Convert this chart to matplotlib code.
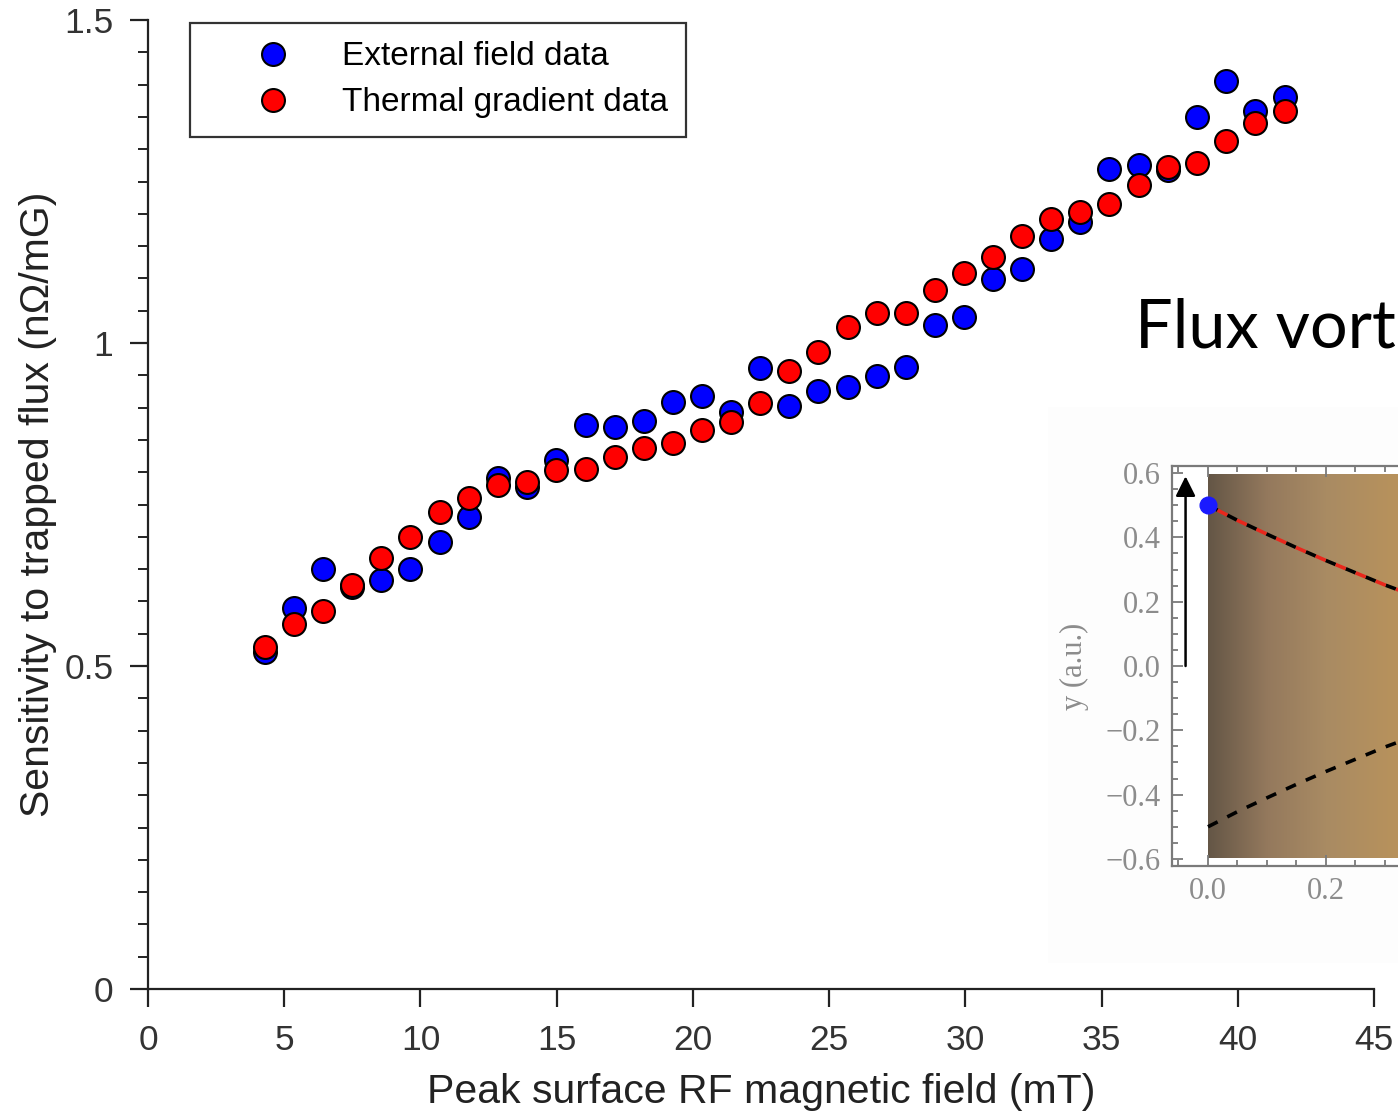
import numpy as np
import matplotlib
matplotlib.use("Agg")
import matplotlib.pyplot as plt
from matplotlib.colors import LinearSegmentedColormap
from matplotlib.patches import Rectangle
from matplotlib.ticker import MultipleLocator, FuncFormatter

# peak surface RF field (mT)
field = [4.29, 5.36, 6.42, 7.49, 8.55, 9.62, 10.72, 11.78, 12.85, 13.91,
         14.98, 16.08, 17.14, 18.21, 19.27, 20.33, 21.40, 22.46, 23.53, 24.59,
         25.69, 26.76, 27.82, 28.89, 29.95, 31.02, 32.08, 33.14, 34.21, 35.27,
         36.37, 37.44, 38.50, 39.57, 40.63, 41.73]
# sensitivity (nOhm/mG)
external = [0.522, 0.590, 0.650, 0.623, 0.633, 0.650, 0.692, 0.731, 0.791, 0.777,
            0.819, 0.873, 0.870, 0.879, 0.909, 0.918, 0.893, 0.961, 0.902, 0.926,
            0.932, 0.949, 0.963, 1.028, 1.040, 1.099, 1.115, 1.161, 1.187, 1.269,
            1.276, 1.268, 1.350, 1.406, 1.359, 1.381]
thermal = [0.529, 0.565, 0.585, 0.625, 0.667, 0.700, 0.738, 0.760, 0.780, 0.785,
           0.803, 0.805, 0.824, 0.837, 0.845, 0.865, 0.878, 0.907, 0.957, 0.986,
           1.025, 1.046, 1.046, 1.082, 1.108, 1.133, 1.166, 1.192, 1.203, 1.215,
           1.245, 1.272, 1.279, 1.313, 1.341, 1.359]

# inset: vortex line profile (a.u.)
inset_x = [0.0, 0.05, 0.1, 0.15, 0.2, 0.25, 0.3, 0.35, 0.4, 0.45, 0.5]
inset_upper = [0.50, 0.453, 0.41, 0.368, 0.328, 0.29, 0.252, 0.218, 0.185, 0.153, 0.123]
inset_lower = [-0.50, -0.453, -0.41, -0.368, -0.328, -0.29, -0.252, -0.218, -0.185, -0.153, -0.123]
inset_xticks = [0.0, 0.2, 0.4]
inset_xlabels = ['0.0', '0.2', '']

W, H = 1398, 1117
fig = plt.figure(figsize=(W / 100, H / 100), dpi=100)
plt.rcParams['font.family'] = ['Liberation Sans', 'DejaVu Sans']

ax = fig.add_axes([148 / W, 1 - 989 / H, (1374 - 148) / W, (989 - 20) / H])
ax.plot(field, external, 'o', ms=16.5, mfc='#0000ff', mec='black', mew=1.5,
        label='External field data', clip_on=False)
ax.plot(field, thermal, 'o', ms=16.5, mfc='#ff0000', mec='black', mew=1.5,
        label='Thermal gradient data', clip_on=False)
ax.set_xlim(0, 45)
ax.set_ylim(0, 1.5)
ax.xaxis.set_major_locator(MultipleLocator(5))
ax.yaxis.set_minor_locator(MultipleLocator(0.05))
ax.set_yticks([0, 0.5, 1, 1.5])
ax.set_yticklabels(['0', '0.5', '1', '1.5'])
for s in ['top', 'right']:
    ax.spines[s].set_visible(False)
for s in ['left', 'bottom']:
    ax.spines[s].set_linewidth(1.6)
    ax.spines[s].set_color('#222222')
ax.tick_params(which='major', length=13, width=1.6, color='#222222',
               labelsize=25.5, labelcolor='#333333', pad=12)
ax.tick_params(which='minor', length=7, width=1.4, color='#222222')
ax.set_xlabel('Peak surface RF magnetic field (mT)', fontsize=29.5,
              color='#222222', labelpad=12)
ax.set_ylabel('Sensitivity to trapped flux (n\u03a9/mG)', fontsize=29.5,
              color='#222222', labelpad=5)

leg = ax.legend(loc='upper left', bbox_to_anchor=(190 / W, 1 - 23 / H),
                bbox_transform=fig.transFigure, borderaxespad=0, fontsize=24,
                frameon=True, fancybox=False, numpoints=1, handlelength=3.9,
                handletextpad=0.1, borderpad=0.55, labelspacing=0.45)
leg.get_frame().set_edgecolor('black')
leg.get_frame().set_linewidth(1.6)

# faint inset backdrop
fig.patches.append(Rectangle((1048 / W, 1 - 963 / H), (W - 1048) / W, (963 - 407) / H,
                             transform=fig.transFigure, facecolor='#fdfdfd',
                             edgecolor='none', zorder=1))

fig.text(1135 / W, 1 - 348 / H, 'Flux vort', fontsize=48, family='Lato',
         va='baseline', ha='left', color='black', zorder=3)

ax2 = fig.add_axes([1172 / W, 1 - 866 / H, (1500 - 1172) / W, (866 - 466) / H], zorder=2)
ax2.patch.set_facecolor('white')
ax2.set_xlim(-0.061, 0.495)
ax2.set_ylim(-0.622, 0.622)
cmap = LinearSegmentedColormap.from_list(
    'brown', [(0.0, '#645646'), (0.2, '#94795d'), (0.4, '#a98b63'),
              (0.64, '#b8925c'), (1.0, '#c09858')])
grad = np.linspace(0, 1, 256).reshape(1, -1)
ax2.imshow(grad, extent=[0, 0.5, -0.597, 0.597], aspect='auto', cmap=cmap,
           origin='lower', zorder=1)
ax2.plot(inset_x, inset_upper, color='black', lw=2.6, dashes=(3, 3), zorder=3)
ax2.plot(inset_x, inset_upper, color='#e8271c', lw=2.6,
         linestyle=(3, (3, 3)), zorder=3)
ax2.plot(inset_x, inset_lower, color='black', lw=2.6, dashes=(3, 3), zorder=3)
ax2.plot([0.0], [0.5], 'o', ms=12, color='#1a1aff', zorder=4, clip_on=False)
ax2.annotate('', xy=(-0.038, 0.59), xytext=(-0.038, 0.0),
             arrowprops=dict(arrowstyle='-|>', color='black', lw=1.8,
                             mutation_scale=30, shrinkA=0, shrinkB=0))
ax2.spines['right'].set_visible(False)
for s in ['left', 'bottom', 'top']:
    ax2.spines[s].set_color('#7a7a7a')
    ax2.spines[s].set_linewidth(1.6)
ax2.set_xticks(inset_xticks)
ax2.set_xticklabels(inset_xlabels)
ax2.xaxis.set_minor_locator(MultipleLocator(0.05))
ax2.yaxis.set_major_locator(MultipleLocator(0.2))
ax2.yaxis.set_minor_locator(MultipleLocator(0.05))
ax2.yaxis.set_major_formatter(FuncFormatter(lambda v, p: f'{v:.1f}'.replace('-', '\u2212')
                                            if abs(v) > 1e-9 else '0.0'))
ax2.tick_params(which='both', direction='in', top=True, right=False,
                color='#7a7a7a', width=1.3)
ax2.tick_params(which='major', length=8, labelsize=22, labelcolor='#8c8c8c', pad=8)
ax2.tick_params(which='minor', length=4)
for lab in ax2.get_xticklabels() + ax2.get_yticklabels():
    lab.set_family(['Liberation Serif', 'DejaVu Serif'])
ax2.set_ylabel('y (a.u.)', fontsize=22, color='#8c8c8c', family='Liberation Serif',
               labelpad=12)

fig.savefig('out.png', dpi=100)
